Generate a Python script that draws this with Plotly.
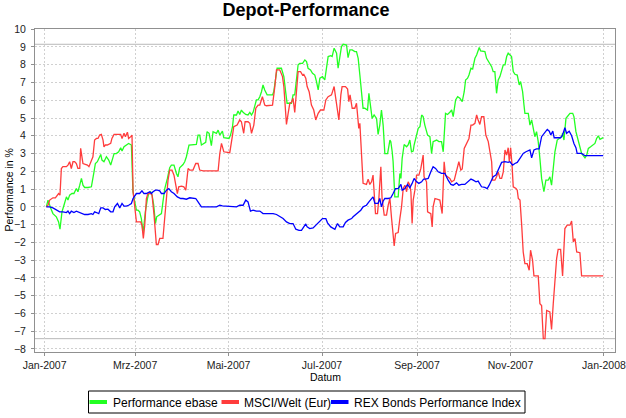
import pandas as pd
import plotly.graph_objects as go

# ---------------- data (days since 2007-01-01, performance in %) ----------------
green_day = [1.1, 2.2, 3.9, 5.4, 7.6, 9.1, 10, 11.3, 12.6, 14.2, 15.2, 16.3, 17.8, 19.1, 20.7, 21.7, 22.9, 24, 25, 26.1,
             28.3, 30.5, 32.2, 33.1, 34.4, 35.9, 36.6, 37.4, 38.7, 40.3, 41.8, 43.1, 43.9, 45.3, 46.8, 48.3, 49.6, 50.5,
             51.8, 53.3, 54.8, 56.6, 57.6, 58.8, 59.9, 60.9, 62, 63.1, 64.2, 64.8, 65.7, 67.1, 67.9, 69.2, 70.1, 71.2,
             72.3, 73.1, 74.4, 76.2, 77.2, 78.4, 80.1, 81.6, 82.7, 84.4, 86, 87, 88.1, 90.3, 91.4, 92.5, 94.2, 96.8, 99,
             100.1, 101.2, 102.3, 103.8, 105.1, 106, 107.3, 108.8, 109.9, 112.1, 113.2, 114.3, 116, 116.9, 118.6, 120.3,
             121.3, 122.6, 123.4, 125.2, 126.2, 127.3, 128.4, 129.5, 131.2, 132.7, 133.9, 135, 136, 137.1, 138.2, 139.3,
             140.4, 141.5, 142.5, 143.6, 145.2, 146.9, 148.7, 149.5, 150.8, 151.7, 154.5, 156.1, 157.4, 158.2, 161.1,
             162.1, 163.2, 164.4, 165.4, 166.5, 168.3, 169.8, 170.9, 171.9, 173.5, 174.8, 176.3, 177.4, 178.5, 179.6,
             181.3, 182.8, 183.9, 185, 186.7, 187.6, 188.9, 190.5, 191.5, 192.6, 193.7, 194.8, 197, 198, 199.2, 200.7,
             202.4, 203.5, 204.6, 205.7, 206.8, 207.8, 208.9, 210.7, 211.6, 212.9, 213.7, 215, 216.6, 217.6, 218.7,
             219.8, 220.9, 222, 223.8, 225.3, 225.9, 226.8, 227.4, 228.5, 230.7, 231.8, 232.5, 233.3, 234.6, 236.2,
             237.2, 238.3, 239.4, 240.5, 241.1, 242.7, 243.8, 244.9, 246, 247, 248.1, 249.9, 251.4, 252.5, 253.5, 255.8,
             257.3, 259, 260.1, 261.6, 262.9, 264.4, 265.6, 266.6, 268.2, 269.5, 271, 272.5, 273.8, 274.7, 276, 276.9,
             278.2, 279.3, 280.8, 281.9, 283.6, 284.5, 285.8, 287.3, 288.4, 289.5, 290.6, 291.7, 292.7, 293.8, 294.9,
             296, 297.1, 298.2, 299.3, 300.4, 301.5, 302.5, 303.6, 304.7, 305.8, 306.9, 308.4, 309.7, 310.6, 311.9,
             312.8, 313.4, 315.6, 316.7, 317.8, 318.8, 319.9, 321, 322.1, 323.2, 324.3, 325.8, 327.1, 328.6, 329.7,
             330.8, 331.9, 333, 334.5, 336.3, 337.4, 338, 338.9, 340.2, 341.7, 342.8, 344.6, 345.4, 346.7, 348.2, 349.3,
             350.4, 351.5, 352.6, 353.7, 354.8, 356.3, 358.1, 359.1, 360.2, 361.3, 362.4, 363.5, 364.5]
green_val = [0, 0.38, -0.06, -0.38, -0.56, -0.85, -1.26, -0.28, 0.09, 0.56, 0.38, 0.66, 0.75, 0.75, 1.03, 0.85, 1.22, 1.6,
             1.22, 1.09, 1.09, 1.13, 1.97, 2.44, 2.54, 2.82, 2.95, 2.63, 2.54, 2.82, 2.63, 2.35, 2.63, 3.0, 3.0, 3.1, 3.33,
             3.14, 3.38, 3.48, 3.57, 3.48, 0.9, 0.28, -0.19, -0.19, -0.28, -0.66, -1.41, -1.03, -0.28, 0.47, 0.75, 0.85,
             0.66, 0.09, -0.94, -0.56, -0.47, -0.38, 0.28, 1.03, 1.6, 2.2, 2.35, 2.35, 1.88, 1.69, 2.2, 2.38, 2.54, 2.82,
             3.48, 3.51, 3.51, 4.04, 4.04, 3.48, 3.57, 3.63, 4.23, 4.14, 3.44, 4.23, 4.14, 4.32, 4.04, 4.26, 3.89, 3.85,
             3.85, 4.04, 4.51, 5.17, 5.17, 5.39, 5.2, 5.45, 5.32, 5.2, 5.17, 5.32, 5.17, 5.32, 5.64, 6.02, 6.02, 6.2, 6.48,
             6.86, 6.58, 6.3, 6.3, 6.3, 6.48, 7.14, 7.8, 7.8, 7.33, 6.39, 5.83, 5.83, 6.3, 6.3, 7.24, 8.0, 8.08, 8.08,
             8.27, 8.18, 7.8, 7.71, 7.52, 7.42, 7.05, 6.58, 7.24, 7.33, 7.14, 7.99, 8.46, 8.51, 8.46, 8.93, 8.65, 7.8,
             8.46, 9.02, 9.15, 9.11, 8.4, 8.83, 8.83, 8.74, 8.74, 8.36, 7.42, 6.2, 5.55, 5.55, 5.45, 6.39, 5.45, 4.98,
             5.17, 4.98, 4.08, 4.6, 5.45, 4.6, 3.0, 3.0, 3.76, 3.67, 3.1, 2.54, 0.56, 0.56, 1.88, 1.6, 2.72, 3.51, 3.38,
             3.48, 3.76, 3.1, 3.14, 3.48, 4.04, 4.42, 4.51, 5.17, 5.08, 4.6, 4.04, 3.95, 3.0, 3.67, 3.76, 3.67, 3.67, 3.1,
             5.26, 5.2, 5.32, 5.45, 5.08, 6.02, 6.2, 6.11, 5.92, 6.48, 7.14, 7.24, 7.42, 7.8, 7.76, 8.36, 8.55, 8.97, 8.78,
             8.78, 8.74, 8.36, 8.18, 8.08, 7.89, 7.61, 7.61, 6.39, 7.14, 7.33, 7.61, 7.99, 7.99, 8.46, 8.65, 8.55, 8.46,
             7.61, 7.46, 7.42, 6.86, 7.05, 6.48, 5.73, 5.26, 5.26, 4.6, 4.89, 4.51, 3.95, 4.23, 3.67, 2.72, 1.6, 0.85, 1.5,
             1.5, 1.69, 1.22, 2.35, 3.1, 3.76, 3.85, 3.95, 4.14, 3.76, 4.98, 5.17, 5.26, 5.26, 5.08, 4.23, 3.76, 3.29,
             3.01, 2.88, 2.76, 2.91, 3.29, 3.38, 3.48, 3.57, 3.85, 4.0, 3.8, 3.85, 3.9]

red_day = [1.1, 2.2, 3.3, 4.4, 5.4, 7, 8.3, 9.1, 10, 10.9, 11.9, 14.2, 15.2, 16.3, 17.4, 18.5, 19.6, 20.7, 21.7, 22.9,
           23.5, 24.4, 25, 26.1, 27.9, 28.9, 30.5, 31.5, 32.6, 33.8, 34.8, 35.9, 37, 38.1, 38.7, 39.6, 40.9, 41.8, 43.1,
           43.9, 45.3, 49.6, 50.5, 51.8, 52.7, 54, 54.8, 56.2, 57, 57.7, 58.8, 59.9, 62.7, 63.5, 64.4, 65.3, 66.4, 67.4,
           69.2, 70.1, 71.4, 72.9, 74, 75.1, 77.2, 78.4, 79.5, 80.5, 81.6, 83.1, 84.4, 85.3, 86.6, 87.5, 89.3, 90.8,
           92.1, 93.6, 94.7, 96.8, 98.6, 100.1, 101.2, 103.4, 113.2, 114.3, 115.4, 116.9, 120.8, 122.6, 123.4, 125.6,
           127.3, 128.4, 129.9, 130.8, 132.7, 133.9, 135, 136.5, 137.8, 139.3, 140.4, 142.1, 143.6, 144.7, 148.7, 150.2,
           151.3, 153.4, 155.2, 156.1, 157.4, 157.8, 158.9, 160, 161.1, 162.1, 163.2, 164.4, 165.4, 167, 168.3, 169.1,
           170.4, 171.3, 172.6, 174.1, 175.6, 176.9, 178.5, 180, 182.2, 183.5, 185, 187.2, 188.9, 189.8, 191.1, 192,
           193.3, 194.1, 196.3, 197.7, 198.5, 199.3, 200.7, 202.4, 203.5, 204.6, 205, 205.7, 206.3, 207.2, 207.8, 210,
           211.1, 212.2, 213.3, 214.3, 215.5, 215.9, 217.2, 218.1, 219.4, 220.2, 221.6, 223.1, 224.2, 225.3, 226.4,
           227.4, 228.1, 229, 230.7, 231.8, 232.9, 234, 235.1, 236.2, 237.2, 238.3, 239, 239.8, 240.5, 241.6, 242.7,
           244.2, 245.5, 247, 247.6, 249.2, 249.9, 252, 252.9, 253.5, 254.7, 257.9, 259.4, 260.7, 261.6, 264.4, 265.6,
           267.3, 268.8, 270.3, 271.6, 272.5, 273.8, 274.7, 276, 276.9, 278.2, 279.3, 280.8, 281.9, 282.9, 284, 285.1,
           286.6, 287.9, 289.5, 290.6, 291.7, 292.3, 293.8, 294.9, 296, 297.1, 298.2, 299.3, 300.4, 301.5, 302.5, 303.2,
           304.1, 305, 305.8, 307.6, 308.4, 309.1, 310.2, 311.3, 312.3, 313.4, 314.9, 316.2, 317.1, 318.4, 319.3, 322.1,
           323.2, 324.3, 325.4, 326.5, 327.6, 329.7, 330.8, 331.9, 333, 334.1, 335.1, 336.7, 338, 339.5, 341, 342.8,
           343.9, 345, 346.1, 347.2, 349.3, 350.4, 364.5]
red_val = [0, 0.09, 0.38, 0.47, 0.51, 0.51, 0.66, 0.75, 0.66, 2.16, 2.26, 2.26, 2.35, 2.54, 2.16, 2.54, 2.54, 2.44, 2.16,
           2.16, 3.29, 2.63, 2.44, 2.4, 2.35, 2.26, 2.63, 2.82, 3.76, 3.85, 3.85, 4.04, 4.08, 3.76, 3.38, 3.48, 3.48, 3.51,
           3.57, 3.85, 4.08, 4.08, 3.85, 4.14, 3.95, 4.2, 3.85, 3.95, 4.04, 0.85, 0.09, -0.85, -0.85, -1.03, -1.78, -1.03,
           0.47, 0.75, 0.75, 0.66, -0.47, -2.12, -2.12, -1.78, -1.78, -0.47, 0.75, 1.5, 2.07, 2.07, 1.78, 1.41, 0.75,
           1.13, 1.17, 1.13, 0.94, 2.16, 2.07, 2.07, 2.44, 2.44, 2.07, 2.03, 2.03, 3.0, 3.57, 3.1, 3.05, 4.04, 4.51, 4.6,
           4.89, 4.79, 4.14, 4.79, 4.79, 4.7, 4.14, 4.6, 5.55, 5.73, 5.73, 6.2, 5.73, 5.69, 5.73, 6.77, 7.71, 7.71, 7.33,
           6.77, 5.26, 4.64, 5.26, 5.83, 5.88, 6.11, 5.32, 6.48, 7.61, 7.61, 7.42, 7.46, 7.24, 6.77, 6.48, 5.73, 5.45,
           4.89, 5.26, 5.45, 5.45, 6.02, 6.2, 6.3, 6.77, 6.2, 5.36, 4.89, 6.3, 6.77, 6.77, 6.63, 5.92, 6.3, 5.55, 5.55,
           5.83, 4.79, 4.42, 4.7, 3.67, 2.07, 1.32, 1.26, 1.56, 1.26, 1.41, 1.79, -0.28, -0.38, -0.38, 0.47, 2.26, 0.47,
           -0.47, -0.47, 0.09, 0.47, -0.66, -1.6, -2.2, -1.5, -1.45, -0.66, 0, 1.03, 1.22, 0.85, 1.41, 1.22, 0.85, -0.94,
           0.38, 0.94, 1.78, 1.78, 2.16, 2.91, 1.69, 1.41, -0.28, -0.38, -1.13, 0, 0.47, 0.38, -0.38, 2.54, 1.78, 1.6,
           1.41, 1.5, 2.07, 2.54, 2.07, 2.13, 3.29, 3.48, 3.67, 3.85, 4.6, 4.6, 4.7, 5.17, 4.89, 4.64, 5.07, 5.07, 4.04,
           3.67, 3.1, 2.54, 1.5, 1.5, 1.69, 1.97, 1.6, 1.6, 1.97, 3.2, 2.91, 3.33, 2.54, 3.33, 2.35, 1.13, 1.03, 0.94,
           0.47, 0.38, -1.03, -2.54, -3.2, -3.2, -3.57, -2.44, -3.0, -3.89, -3.89, -5.45, -5.55, -7.42, -7.42, -5.83,
           -5.92, -6.9, -5.45, -3.95, -2.91, -2.39, -2.39, -3.89, -1.22, -1.03, -1.03, -0.8, -1.97, -1.78, -2.54, -2.58,
           -3.89, -3.89]

blue_day = [1.1, 3.3, 5.4, 7.6, 9.8, 11.9, 14.2, 15.2, 16.3, 17.4, 19.1, 20.7, 22.9, 24, 26.1, 28.3, 30.5, 31.5, 32.6,
            33.8, 35.3, 36.6, 38.1, 39.6, 41.3, 43.1, 44.6, 45.7, 47.5, 49, 50.5, 51.8, 53.3, 54.8, 56.6, 57.7, 59.9, 62,
            63.5, 64.8, 66.4, 68.6, 69.7, 70.7, 72.3, 73.6, 75.1, 76.2, 77.9, 79.5, 81, 82.7, 84.4, 86.6, 88.8, 90.3,
            92.5, 94.7, 96.8, 98.6, 100.1, 102.3, 112.1, 114.3, 116, 119.7, 125.2, 127.3, 129.5, 131.2, 132.7, 134.3,
            136, 138.2, 140.4, 142.5, 149.1, 151.3, 153.4, 155.6, 157.8, 160, 162.1, 163.9, 166, 167.6, 169.1, 170.4,
            171.3, 173, 175.2, 177.4, 179.6, 181.3, 183.5, 184.6, 186.7, 189.4, 191.1, 192.6, 194.8, 196.3, 198, 200.3,
            201.3, 203.5, 204.6, 206.3, 207.8, 210, 211.6, 213.3, 214.3, 215.5, 217.6, 218.7, 219.8, 220.9, 222, 224.2,
            225.9, 227.4, 229, 230.7, 232.5, 233.3, 235.1, 236.8, 238.3, 239.8, 241.1, 242.7, 244.2, 246, 247.3, 248.6,
            250.3, 252, 253.5, 255.1, 256.8, 259, 261.2, 263.3, 265.1, 266.6, 268.8, 270.3, 272.1, 274.2, 276, 278.2,
            279.7, 281.5, 282.9, 285.1, 287.3, 288.8, 290.1, 291.7, 292.7, 294.5, 296, 298.2, 300.4, 302.5, 303.6,
            305.4, 306.9, 308.4, 310.2, 312.3, 314.1, 315.6, 316.7, 317.8, 319.3, 321, 322.7, 324.3, 325.8, 328, 329.3,
            330.3, 331.6, 332.5, 336.7, 338, 339.5, 340.6, 342.3, 343.9, 345.4, 346.7, 347.5, 350.4, 352.6, 364.5]
blue_val = [0, 0, -0.06, -0.19, -0.28, -0.28, -0.32, -0.24, -0.38, -0.24, -0.32, -0.24, -0.32, -0.38, -0.43, -0.43,
            -0.38, -0.43, -0.28, -0.32, -0.38, -0.06, -0.06, -0.15, -0.13, -0.28, -0.28, 0, 0.19, -0.06, 0.19, 0.04,
            0.04, 0.09, 0.19, 0.47, 0.75, 0.75, 0.9, 0.75, 0.75, 0.85, 0.75, 0.85, 0.94, 0.94, 0.9, 0.75, 0.75, 0.94,
            1.03, 0.85, 0.75, 0.56, 0.47, 0.47, 0.43, 0.51, 0.47, 0.47, 0.28, 0, 0, 0.09, 0.06, 0.04, 0, 0.09, 0.09,
            0.38, 0.28, -0.24, -0.19, -0.24, -0.24, -0.38, -0.38, -0.43, -0.56, -0.66, -0.85, -0.94, -0.94, -1.26,
            -1.32, -1.32, -1.13, -0.96, -1.13, -1.22, -1.19, -1.0, -0.85, -0.66, -0.66, -0.9, -1.13, -1.26, -0.94,
            -1.13, -1.13, -0.88, -0.75, -0.66, -0.56, -0.38, -0.28, -0.19, 0, 0.09, 0.28, 0.47, 0.56, 0.19, 0.19, 0.47,
            0, 0.32, 0.47, 0.47, 0.51, 0.75, 1.03, 1.03, 1.26, 0.94, 1.03, 1.26, 1.07, 1.32, 1.6, 1.41, 1.32, 1.41,
            1.56, 1.56, 1.6, 1.97, 2.26, 2.16, 1.97, 1.88, 1.88, 1.5, 1.26, 1.22, 1.35, 1.22, 1.26, 1.26, 1.41, 1.56,
            1.5, 1.41, 1.45, 1.13, 1.09, 1.03, 1.22, 1.5, 1.69, 1.79, 2.1, 2.5, 2.54, 2.5, 2.54, 2.35, 2.44, 2.5, 2.73,
            3.01, 3.1, 3.14, 3.2, 2.76, 3.2, 3.26, 3.26, 3.95, 4.14, 4.36, 4.26, 4.04, 4.26, 3.89, 3.89, 4.04, 4.45,
            4.14, 4.26, 4.0, 3.57, 3.33, 3.01, 3.01, 2.88, 2.88]

series_names = ["Performance ebase", "MSCI/Welt (Eur)", "REX Bonds Performance Index"]
series_colors = ["#22ff22", "#ff3c3c", "#0000ff"]

tick_dates = ["2007-01-01", "2007-03-01", "2007-05-01", "2007-07-01", "2007-09-01", "2007-11-01", "2008-01-01"]
tick_labels = ["Jan-2007", "Mrz-2007", "Mai-2007", "Jul-2007", "Sep-2007", "Nov-2007", "Jan-2008"]
y_ticks = list(range(-8, 11))

# ---------------- figure ----------------
start = pd.Timestamp("2007-01-01")


def to_dates(days):
    return [start + pd.Timedelta(days=d) for d in days]


FONT = "Liberation Sans, Arial, sans-serif"
L, R, T, B = 35, 11, 29, 66
W, H = 626 - L - R, 418 - T - B


def px_x(px):
    return (px - L) / W


def px_y(py):
    return (418 - B - py) / H


fig = go.Figure()
for days, vals, name, color in zip([green_day, red_day, blue_day], [green_val, red_val, blue_val],
                                   series_names, series_colors):
    fig.add_trace(go.Scatter(x=to_dates(days), y=vals, mode="lines", name=name,
                             line=dict(color=color, width=1.3), showlegend=False))

all_vals = green_val + red_val + blue_val
shapes = []
for yv in (max(all_vals), min(all_vals)):
    shapes.append(dict(type="line", xref="paper", x0=0, x1=1, yref="y", y0=yv, y1=yv,
                       line=dict(color="#b8b8b8", width=1), layer="below"))

# legend (drawn manually to match the compact original legend)
shapes.append(dict(type="rect", xref="paper", yref="paper", x0=px_x(88.5), x1=px_x(525), y0=px_y(391), y1=px_y(413),
                   line=dict(color="black", width=1), fillcolor="rgba(0,0,0,0)"))
legend_sym = [89.5, 221.5, 331]
legend_txt = [110.5, 242, 352]
annotations = []
for sx, tx, name, color in zip(legend_sym, legend_txt, series_names, series_colors):
    shapes.append(dict(type="line", xref="paper", yref="paper", x0=px_x(sx), x1=px_x(sx + 17.5),
                       y0=px_y(402), y1=px_y(402), line=dict(color=color, width=4)))
    annotations.append(dict(text=name, xref="paper", yref="paper", x=px_x(tx), y=px_y(402.5),
                            xanchor="left", yanchor="middle", showarrow=False,
                            font=dict(family=FONT, size=12, color="black")))

annotations.append(dict(text="Datum", xref="paper", yref="paper", x=0.5, y=px_y(377), xanchor="center",
                        yanchor="middle", showarrow=False, font=dict(family=FONT, size=10.5, color="black")))
annotations.append(dict(text="Performance in %", xref="paper", yref="paper", x=px_x(8), y=0.5, xanchor="center",
                        yanchor="middle", textangle=-90, showarrow=False,
                        font=dict(family=FONT, size=10.5, color="black")))

axis_common = dict(showgrid=True, gridcolor="#d0d0d0", griddash="2px,2px", gridwidth=1, zeroline=False,
                   showline=True, linecolor="#909090", linewidth=1, mirror=True, ticks="outside", ticklen=3,
                   tickcolor="#909090", tickfont=dict(family=FONT, size=10.5, color="#222"), automargin=False)

fig.update_layout(
    width=626, height=418,
    margin=dict(l=L, r=R, t=T, b=B, autoexpand=False),
    paper_bgcolor="white", plot_bgcolor="white",
    title=dict(text="<b>Depot-Performance</b>", x=306 / 626, xref="container", xanchor="center",
               y=1 - 3 / 418, yref="container", yanchor="top",
               font=dict(family=FONT, size=18, color="black")),
    xaxis=dict(type="date", range=[start - pd.Timedelta(days=6.3), start + pd.Timedelta(days=372.2)],
               tickmode="array", tickvals=tick_dates, ticktext=tick_labels, ticklabeloverflow="allow",
               **axis_common),
    yaxis=dict(range=[-8.17, 10.01], tickmode="array", tickvals=y_ticks, ticklabelstandoff=3, **axis_common),
    shapes=shapes, annotations=annotations, showlegend=False,
)

fig.write_html("out.html", config={"displayModeBar": False},
               post_script="document.body.style.margin='0';document.body.style.overflow='hidden';")
